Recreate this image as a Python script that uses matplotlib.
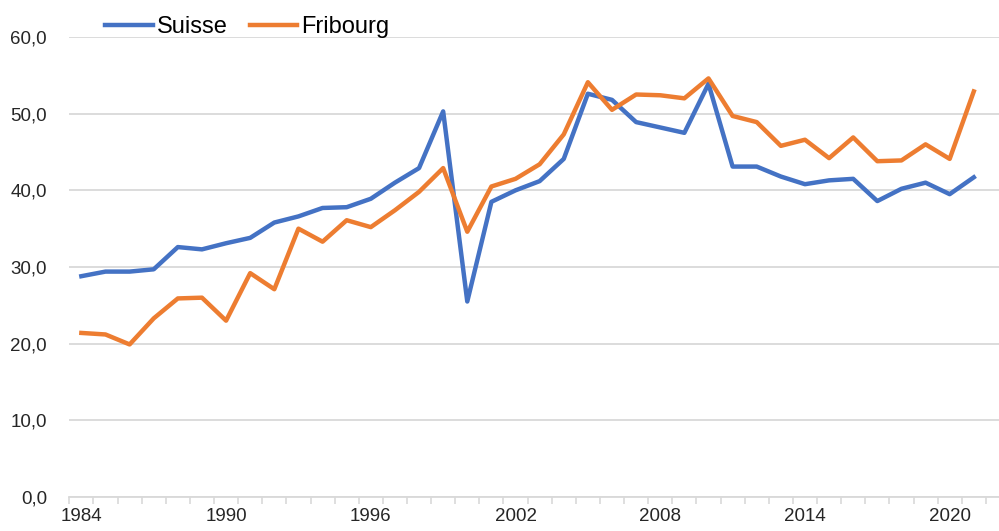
import matplotlib
matplotlib.use("Agg")
import matplotlib.pyplot as plt
from matplotlib.ticker import FixedLocator, FuncFormatter

plt.rcParams['font.family'] = ['Liberation Sans', 'DejaVu Sans']

years = list(range(1984, 2022))
suisse = [28.8, 29.4, 29.4, 29.7, 32.6, 32.3, 33.1, 33.8, 35.8, 36.6,
          37.7, 37.8, 38.9, 41.0, 42.9, 50.3, 25.5, 38.5, 40.0, 41.2,
          44.1, 52.6, 51.8, 48.9, 48.2, 47.5, 53.9, 43.1, 43.1, 41.8,
          40.8, 41.3, 41.5, 38.6, 40.2, 41.0, 39.5, 41.7]
fribourg = [21.4, 21.2, 19.9, 23.3, 25.9, 26.0, 23.0, 29.2, 27.1, 35.0,
            33.3, 36.1, 35.2, 37.4, 39.8, 42.9, 34.6, 40.5, 41.5, 43.4,
            47.3, 54.1, 50.5, 52.5, 52.4, 52.0, 54.6, 49.7, 48.9, 45.8,
            46.6, 44.2, 46.9, 43.8, 43.9, 46.0, 44.1, 52.9]
yticks = [0, 10, 20, 30, 40, 50, 60]
label_years = [1984, 1990, 1996, 2002, 2008, 2014, 2020]

W, H = 999, 531
fig = plt.figure(figsize=(W / 100, H / 100), dpi=100)
ax = fig.add_axes([69.3 / W, (H - 497) / H, (999 - 69.3) / W, (497 - 37) / H])

x = list(range(len(years)))
ax.plot(x, suisse, color='#4472C4', lw=3.2, solid_joinstyle='round', label='Suisse', zorder=3)
ax.plot(x, fribourg, color='#ED7D31', lw=3.2, solid_joinstyle='round', label='Fribourg', zorder=3)

ax.set_ylim(0, 60)
ax.set_xlim(-0.5, -0.5 + (999 - 69.3) / 24.12)
ax.set_yticks(yticks)
ax.yaxis.set_major_formatter(FuncFormatter(lambda v, p: f"{v:.1f}".replace('.', ',')))
ax.grid(axis='y', color='#d9d9d9', lw=1.3, zorder=0)
ax.tick_params(axis='y', length=0, pad=16, labelsize=13.5, labelcolor='#262626')

ax.xaxis.set_major_locator(FixedLocator([y - 1984 for y in label_years]))
ax.set_xticklabels([str(y) for y in label_years])
ax.xaxis.set_minor_locator(FixedLocator([i - 0.5 for i in range(len(years) + 1)]))
ax.tick_params(axis='x', which='major', length=0, pad=8, labelsize=13.5, labelcolor='#262626')
ax.tick_params(axis='x', which='minor', length=5, width=1.2, color='#d9d9d9')

for s in ['left', 'right', 'top']:
    ax.spines[s].set_visible(False)
ax.spines['bottom'].set_color('#d9d9d9')
ax.spines['bottom'].set_linewidth(1.3)

fig.legend(loc='upper left', bbox_to_anchor=(96 / W, 0.988), ncol=2, frameon=False,
           fontsize=17, handlelength=2.0, handletextpad=0.2, columnspacing=0.9,
           borderaxespad=0.0)

fig.savefig('out.png', dpi=100)
